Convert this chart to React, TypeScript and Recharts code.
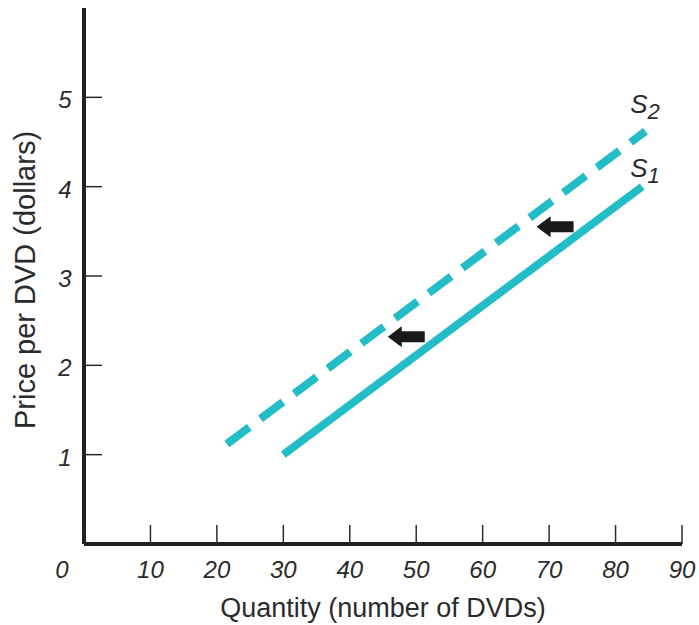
import { Label, Line, LineChart, Scatter, XAxis, YAxis } from 'recharts';

const xTicks = [0, 10, 20, 30, 40, 50, 60, 70, 80, 90];
const yTicks = [1, 2, 3, 4, 5];

// supply curves: quantity / price endpoints
const s1Quantity = [30, 84];
const s1Price = [1, 4];
const s2Quantity = [21.5, 84.5];
const s2Price = [1.12, 4.62];

// leftward shift arrows (centre points)
const arrowQuantity = [48.5, 70.9];
const arrowPrice = [2.32, 3.55];

// curve labels (text start, baseline)
const curveNames = ['S', 'S'];
const curveSubs = ['2', '1'];
const curveLabelQuantity = [82.2, 82.2];
const curveLabelPrice = [4.82, 4.11];

const TEAL = '#23bdc7';
const INK = '#2b2b2b';
const TICK_FONT = '"Liberation Sans", Arial, sans-serif';

const toPoints = (qs: number[], ps: number[]) => qs.map((q, i) => ({ q, p: ps[i] }));

const s1Data = toPoints(s1Quantity, s1Price);
const s2Data = toPoints(s2Quantity, s2Price);
const arrowData = toPoints(arrowQuantity, arrowPrice);
const curveLabelData = curveLabelQuantity.map((q, i) => ({
  q,
  p: curveLabelPrice[i],
  name: curveNames[i],
  sub: curveSubs[i]
}));

const XTick = ({ x, y, payload }: any) => (
  <g>
    <line x1={x} x2={x} y1={y} y2={y - 19} stroke={INK} strokeWidth={1.5} />
    <text
      x={payload.value === 0 ? x - 22 : x}
      y={y + 34}
      textAnchor="middle"
      fontFamily={TICK_FONT}
      fontStyle="italic"
      fontSize={24}
      fill={INK}
    >
      {payload.value}
    </text>
  </g>
);

const YTick = ({ x, y, payload }: any) => (
  <g>
    <line x1={x} x2={x + 18} y1={y} y2={y} stroke={INK} strokeWidth={1.5} />
    <text
      x={x - 19}
      y={y + 11}
      textAnchor="middle"
      fontFamily={TICK_FONT}
      fontStyle="italic"
      fontSize={24}
      fill={INK}
    >
      {payload.value}
    </text>
  </g>
);

const ArrowShape = ({ cx, cy }: any) => {
  const tip = cx - 18.5;
  const base = cx - 4.5;
  const tail = cx + 18.5;
  return (
    <path
      d={`M${tip},${cy} L${base},${cy - 10.5} L${base},${cy - 5.5} L${tail},${cy - 5.5} L${tail},${cy + 5.5} L${base},${cy + 5.5} L${base},${cy + 10.5} Z`}
      fill="#1a1a1a"
    />
  );
};

const CurveLabel = ({ cx, cy, payload }: any) => (
  <text x={cx} y={cy} fontFamily={TICK_FONT} fontStyle="italic" fontSize={26} fill={INK}>
    {payload.name}
    <tspan dy={6} fontSize={22}>
      {payload.sub}
    </tspan>
  </text>
);

export default function App() {
  return (
    <div style={{ position: 'absolute', left: 0, top: 0, width: 699, height: 625, background: '#fff' }}>
      <LineChart width={699} height={625} margin={{ top: 8, right: 17, bottom: 51, left: 24 }}>
        <XAxis
          dataKey="q"
          type="number"
          domain={[0, 90]}
          ticks={xTicks}
          height={30}
          tickSize={0}
          tickMargin={0}
          tickLine={false}
          tick={<XTick />}
          axisLine={{ stroke: '#231f20', strokeWidth: 4 }}
          interval={0}
        >
          <Label
            content={({ viewBox }: any) => (
              <text
                x={viewBox.x + viewBox.width / 2}
                y={617}
                textAnchor="middle"
                fontFamily={TICK_FONT}
                fontSize={27}
                fill={INK}
              >
                Quantity (number of DVDs)
              </text>
            )}
          />
        </XAxis>
        <YAxis
          dataKey="p"
          type="number"
          domain={[0, 6]}
          ticks={yTicks}
          width={60}
          tickSize={0}
          tickMargin={0}
          tickLine={false}
          tick={<YTick />}
          axisLine={{ stroke: '#231f20', strokeWidth: 4 }}
          interval={0}
        >
          <Label
            content={({ viewBox }: any) => {
              const cy = viewBox.y + viewBox.height / 2 + 4;
              return (
                <text
                  x={35}
                  y={cy}
                  transform={`rotate(-90, 35, ${cy})`}
                  textAnchor="middle"
                  fontFamily={TICK_FONT}
                  fontSize={29}
                  fill={INK}
                >
                  Price per DVD (dollars)
                </text>
              );
            }}
          />
        </YAxis>
        <Line
          data={s2Data}
          dataKey="p"
          type="linear"
          stroke={TEAL}
          strokeWidth={8}
          strokeDasharray="28 14"
          dot={false}
          activeDot={false}
          isAnimationActive={false}
        />
        <Line
          data={s1Data}
          dataKey="p"
          type="linear"
          stroke={TEAL}
          strokeWidth={8}
          dot={false}
          activeDot={false}
          isAnimationActive={false}
        />
        <Scatter data={arrowData} dataKey="p" shape={<ArrowShape />} isAnimationActive={false} />
        <Scatter data={curveLabelData} dataKey="p" shape={<CurveLabel />} isAnimationActive={false} />
      </LineChart>
    </div>
  );
}
